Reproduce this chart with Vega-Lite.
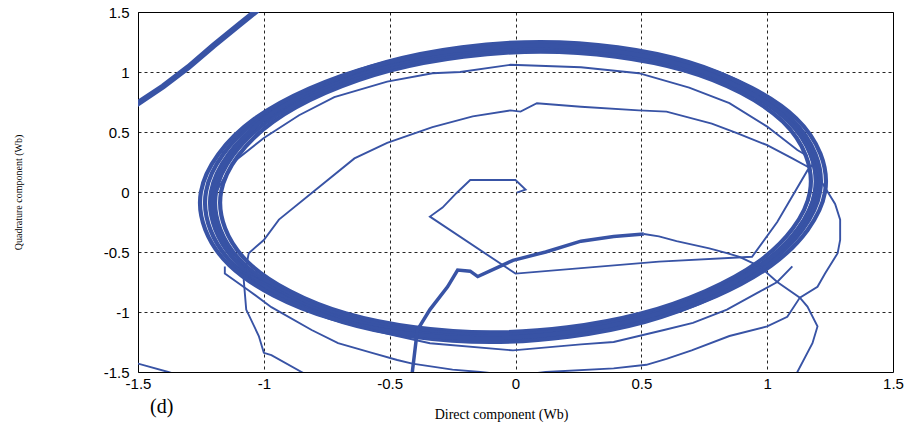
{
  "$schema": "https://vega.github.io/schema/vega-lite/v6.json",
  "width": 755,
  "height": 360,
  "autosize": {"type": "none"},
  "padding": {"left": 138, "top": 12, "right": 17, "bottom": 69},
  "background": "white",
  "config": {
    "view": {"stroke": "black", "strokeWidth": 1},
    "axis": {
      "grid": true,
      "gridDash": [3, 3],
      "gridColor": "#000",
      "gridOpacity": 0.85,
      "gridWidth": 1,
      "ticks": false,
      "domain": false,
      "labelFont": "Liberation Sans",
      "labelFontSize": 15,
      "labelColor": "#000",
      "labelFlush": false,
      "labelOverlap": false,
      "titleFont": "Liberation Serif",
      "titleFontWeight": "normal",
      "titleColor": "#000"
    }
  },
  "title": {
    "text": "(d)",
    "orient": "bottom",
    "anchor": "start",
    "frame": "group",
    "font": "Liberation Serif",
    "fontSize": 20,
    "fontWeight": "normal",
    "color": "#000",
    "offset": -24,
    "dx": 12
  },
  "datasets": {
    "band": [
      {"s":"b1","i":0,"x":1.17,"y":0},{"s":"b1","i":1,"x":1.063,"y":0.585},{"s":"b1","i":2,"x":0.672,"y":1.013},{"s":"b1","i":3,"x":0.1,"y":1.17},{"s":"b1","i":4,"x":-0.498,"y":1.013},{"s":"b1","i":5,"x":-0.963,"y":0.585},{"s":"b1","i":6,"x":-1.17,"y":0},{"s":"b1","i":7,"x":-1.063,"y":-0.585},{"s":"b1","i":8,"x":-0.672,"y":-1.013},{"s":"b1","i":9,"x":-0.1,"y":-1.17},{"s":"b1","i":10,"x":0.498,"y":-1.013},{"s":"b1","i":11,"x":0.963,"y":-0.585},
      {"s":"b2","i":0,"x":1.19,"y":0},{"s":"b2","i":1,"x":1.081,"y":0.595},{"s":"b2","i":2,"x":0.682,"y":1.031},{"s":"b2","i":3,"x":0.1,"y":1.19},{"s":"b2","i":4,"x":-0.508,"y":1.031},{"s":"b2","i":5,"x":-0.981,"y":0.595},{"s":"b2","i":6,"x":-1.19,"y":0},{"s":"b2","i":7,"x":-1.081,"y":-0.595},{"s":"b2","i":8,"x":-0.682,"y":-1.031},{"s":"b2","i":9,"x":-0.1,"y":-1.19},{"s":"b2","i":10,"x":0.508,"y":-1.031},{"s":"b2","i":11,"x":0.981,"y":-0.595},
      {"s":"b3","i":0,"x":1.21,"y":0},{"s":"b3","i":1,"x":1.098,"y":0.605},{"s":"b3","i":2,"x":0.692,"y":1.048},{"s":"b3","i":3,"x":0.1,"y":1.21},{"s":"b3","i":4,"x":-0.518,"y":1.048},{"s":"b3","i":5,"x":-0.998,"y":0.605},{"s":"b3","i":6,"x":-1.21,"y":0},{"s":"b3","i":7,"x":-1.098,"y":-0.605},{"s":"b3","i":8,"x":-0.692,"y":-1.048},{"s":"b3","i":9,"x":-0.1,"y":-1.21},{"s":"b3","i":10,"x":0.518,"y":-1.048},{"s":"b3","i":11,"x":0.998,"y":-0.605},
      {"s":"b4","i":0,"x":1.23,"y":0},{"s":"b4","i":1,"x":1.115,"y":0.615},{"s":"b4","i":2,"x":0.702,"y":1.065},{"s":"b4","i":3,"x":0.1,"y":1.23},{"s":"b4","i":4,"x":-0.528,"y":1.065},{"s":"b4","i":5,"x":-1.015,"y":0.615},{"s":"b4","i":6,"x":-1.23,"y":0},{"s":"b4","i":7,"x":-1.115,"y":-0.615},{"s":"b4","i":8,"x":-0.702,"y":-1.065},{"s":"b4","i":9,"x":-0.1,"y":-1.23},{"s":"b4","i":10,"x":0.528,"y":-1.065},{"s":"b4","i":11,"x":1.015,"y":-0.615},
      {"s":"b5","i":0,"x":1.2,"y":0},{"s":"b5","i":1,"x":1.089,"y":0.625},{"s":"b5","i":2,"x":0.687,"y":1.083},{"s":"b5","i":3,"x":0.1,"y":1.25},{"s":"b5","i":4,"x":-0.513,"y":1.083},{"s":"b5","i":5,"x":-0.989,"y":0.625},{"s":"b5","i":6,"x":-1.2,"y":0},{"s":"b5","i":7,"x":-1.089,"y":-0.625},{"s":"b5","i":8,"x":-0.687,"y":-1.083},{"s":"b5","i":9,"x":-0.1,"y":-1.25},{"s":"b5","i":10,"x":0.513,"y":-1.083},{"s":"b5","i":11,"x":0.989,"y":-0.625},
      {"s":"b6","i":0,"x":1.19,"y":0},{"s":"b6","i":1,"x":1.077,"y":0.61},{"s":"b6","i":2,"x":0.667,"y":1.057},{"s":"b6","i":3,"x":0.07,"y":1.22},{"s":"b6","i":4,"x":-0.553,"y":1.057},{"s":"b6","i":5,"x":-1.037,"y":0.61},{"s":"b6","i":6,"x":-1.25,"y":0},{"s":"b6","i":7,"x":-1.137,"y":-0.61},{"s":"b6","i":8,"x":-0.727,"y":-1.057},{"s":"b6","i":9,"x":-0.13,"y":-1.22},{"s":"b6","i":10,"x":0.493,"y":-1.057},{"s":"b6","i":11,"x":0.977,"y":-0.61}
    ],
    "thick": [
      {"s":"T1","i":0,"x":-1.6,"y":0.58},{"s":"T1","i":1,"x":-1.5,"y":0.74},{"s":"T1","i":2,"x":-1.4,"y":0.88},{"s":"T1","i":3,"x":-1.3,"y":1.04},{"s":"T1","i":4,"x":-1.2,"y":1.22},{"s":"T1","i":5,"x":-1.1,"y":1.39},{"s":"T1","i":6,"x":-1.0,"y":1.56},
      {"s":"L0","i":0,"x":-0.41,"y":-1.6},{"s":"L0","i":1,"x":-0.41,"y":-1.5},{"s":"L0","i":2,"x":-0.39,"y":-1.15},{"s":"L0","i":3,"x":-0.34,"y":-0.98},{"s":"L0","i":4,"x":-0.27,"y":-0.79},{"s":"L0","i":5,"x":-0.23,"y":-0.65},{"s":"L0","i":6,"x":-0.18,"y":-0.66},{"s":"L0","i":7,"x":-0.15,"y":-0.705},{"s":"L0","i":8,"x":-0.01,"y":-0.57},{"s":"L0","i":9,"x":0.12,"y":-0.5},{"s":"L0","i":10,"x":0.26,"y":-0.41},{"s":"L0","i":11,"x":0.39,"y":-0.37},{"s":"L0","i":12,"x":0.51,"y":-0.35}
    ],
    "trace": [
      {"s":"T2","i":0,"x":-1.6,"y":-1.38},{"s":"T2","i":1,"x":-1.5,"y":-1.43},{"s":"T2","i":2,"x":-1.38,"y":-1.5},{"s":"T2","i":3,"x":-1.3,"y":-1.55},
      {"s":"S","i":0,"x":0.005,"y":-0.005},{"s":"S","i":1,"x":0.04,"y":0.02},{"s":"S","i":2,"x":0.0,"y":0.1},{"s":"S","i":3,"x":-0.18,"y":0.1},{"s":"S","i":4,"x":-0.235,"y":-0.01},{"s":"S","i":5,"x":-0.29,"y":-0.13},{"s":"S","i":6,"x":-0.34,"y":-0.205},{"s":"S","i":7,"x":0.0,"y":-0.68},{"s":"S","i":8,"x":0.57,"y":-0.58},{"s":"S","i":9,"x":0.94,"y":-0.54},{"s":"S","i":10,"x":1.04,"y":-0.25},{"s":"S","i":11,"x":1.16,"y":0.18},{"s":"S","i":12,"x":1.19,"y":0.25},
      {"s":"L1","i":12,"x":0.51,"y":-0.35},{"s":"L1","i":13,"x":0.57,"y":-0.37},{"s":"L1","i":14,"x":0.64,"y":-0.41},{"s":"L1","i":15,"x":0.77,"y":-0.47},{"s":"L1","i":16,"x":0.84,"y":-0.51},{"s":"L1","i":17,"x":0.89,"y":-0.54},{"s":"L1","i":18,"x":0.97,"y":-0.62},{"s":"L1","i":19,"x":1.04,"y":-0.75},{"s":"L1","i":20,"x":1.13,"y":-0.88},{"s":"L1","i":21,"x":1.16,"y":-0.955},{"s":"L1","i":22,"x":1.2,"y":-1.12},{"s":"L1","i":23,"x":1.18,"y":-1.26},{"s":"L1","i":24,"x":1.12,"y":-1.5},{"s":"L1","i":25,"x":1.08,"y":-1.6},
      {"s":"U1","i":0,"x":1.17,"y":0.2},{"s":"U1","i":1,"x":1.1,"y":0.28},{"s":"U1","i":2,"x":1.0,"y":0.39},{"s":"U1","i":3,"x":0.88,"y":0.49},{"s":"U1","i":4,"x":0.78,"y":0.57},{"s":"U1","i":5,"x":0.6,"y":0.67},{"s":"U1","i":6,"x":0.49,"y":0.68},{"s":"U1","i":7,"x":0.26,"y":0.71},{"s":"U1","i":8,"x":0.085,"y":0.74},{"s":"U1","i":9,"x":0.02,"y":0.67},{"s":"U1","i":10,"x":-0.02,"y":0.68},{"s":"U1","i":11,"x":-0.17,"y":0.63},{"s":"U1","i":12,"x":-0.33,"y":0.54},{"s":"U1","i":13,"x":-0.51,"y":0.41},{"s":"U1","i":14,"x":-0.64,"y":0.28},{"s":"U1","i":15,"x":-0.94,"y":-0.23},{"s":"U1","i":16,"x":-1.0,"y":-0.4},{"s":"U1","i":17,"x":-1.06,"y":-0.51},{"s":"U1","i":18,"x":-1.08,"y":-0.73},{"s":"U1","i":19,"x":-1.07,"y":-0.98},{"s":"U1","i":20,"x":-1.02,"y":-1.2},{"s":"U1","i":21,"x":-1.0,"y":-1.34},{"s":"U1","i":22,"x":-0.97,"y":-1.36},{"s":"U1","i":23,"x":-0.85,"y":-1.5},{"s":"U1","i":24,"x":-0.8,"y":-1.56},
      {"s":"U2","i":0,"x":1.16,"y":0.3},{"s":"U2","i":1,"x":1.12,"y":0.35},{"s":"U2","i":2,"x":1.0,"y":0.545},{"s":"U2","i":3,"x":0.85,"y":0.74},{"s":"U2","i":4,"x":0.69,"y":0.87},{"s":"U2","i":5,"x":0.49,"y":0.99},{"s":"U2","i":6,"x":0.26,"y":1.04},{"s":"U2","i":7,"x":-0.02,"y":1.06},{"s":"U2","i":8,"x":-0.22,"y":1.0},{"s":"U2","i":9,"x":-0.33,"y":0.99},{"s":"U2","i":10,"x":-0.51,"y":0.92},{"s":"U2","i":11,"x":-0.72,"y":0.79},{"s":"U2","i":12,"x":-0.86,"y":0.64},{"s":"U2","i":13,"x":-1.0,"y":0.45},{"s":"U2","i":14,"x":-1.12,"y":0.25},{"s":"U2","i":15,"x":-1.19,"y":0.0},
      {"s":"B1","i":0,"x":-1.12,"y":-0.6},{"s":"B1","i":1,"x":-1.1,"y":-0.65},{"s":"B1","i":2,"x":-0.97,"y":-0.79},{"s":"B1","i":3,"x":-0.84,"y":-0.93},{"s":"B1","i":4,"x":-0.705,"y":-1.04},{"s":"B1","i":5,"x":-0.57,"y":-1.15},{"s":"B1","i":6,"x":-0.47,"y":-1.2},{"s":"B1","i":7,"x":-0.34,"y":-1.26},{"s":"B1","i":8,"x":-0.01,"y":-1.32},{"s":"B1","i":9,"x":0.26,"y":-1.27},{"s":"B1","i":10,"x":0.39,"y":-1.25},{"s":"B1","i":11,"x":0.59,"y":-1.15},{"s":"B1","i":12,"x":0.705,"y":-1.09},{"s":"B1","i":13,"x":0.84,"y":-0.98},{"s":"B1","i":14,"x":0.97,"y":-0.83},{"s":"B1","i":15,"x":1.04,"y":-0.75},{"s":"B1","i":16,"x":1.1,"y":-0.62},
      {"s":"B2","i":0,"x":-1.155,"y":-0.62},{"s":"B2","i":1,"x":-1.155,"y":-0.68},{"s":"B2","i":2,"x":-1.06,"y":-0.82},{"s":"B2","i":3,"x":-0.97,"y":-0.96},{"s":"B2","i":4,"x":-0.81,"y":-1.15},{"s":"B2","i":5,"x":-0.705,"y":-1.26},{"s":"B2","i":6,"x":-0.57,"y":-1.34},{"s":"B2","i":7,"x":-0.47,"y":-1.4},{"s":"B2","i":8,"x":-0.41,"y":-1.43},{"s":"B2","i":9,"x":-0.25,"y":-1.48},{"s":"B2","i":10,"x":-0.14,"y":-1.5},{"s":"B2","i":11,"x":0.0,"y":-1.53},{"s":"B2","i":12,"x":0.12,"y":-1.5},{"s":"B2","i":13,"x":0.39,"y":-1.47},{"s":"B2","i":14,"x":0.52,"y":-1.44},{"s":"B2","i":15,"x":0.6,"y":-1.39},{"s":"B2","i":16,"x":0.7,"y":-1.32},{"s":"B2","i":17,"x":0.85,"y":-1.2},{"s":"B2","i":18,"x":1.0,"y":-1.12},{"s":"B2","i":19,"x":1.08,"y":-1.04},{"s":"B2","i":20,"x":1.13,"y":-0.88},{"s":"B2","i":21,"x":1.2,"y":-0.79},{"s":"B2","i":22,"x":1.23,"y":-0.68},{"s":"B2","i":23,"x":1.28,"y":-0.51},{"s":"B2","i":24,"x":1.29,"y":-0.4},{"s":"B2","i":25,"x":1.29,"y":-0.23},{"s":"B2","i":26,"x":1.27,"y":-0.1},{"s":"B2","i":27,"x":1.22,"y":0.07},{"s":"B2","i":28,"x":1.19,"y":0.18}
    ]
  },
  "encoding": {
    "x": {
      "field": "x", "type": "quantitative",
      "scale": {"domain": [-1.5, 1.5], "nice": false, "zero": false},
      "axis": {
        "title": "Direct component (Wb)",
        "values": [-1.5, -1, -0.5, 0, 0.5, 1, 1.5],
        "labelExpr": "datum.value < 0 ? '-' + format(-datum.value, '~g') : format(datum.value, '~g')",
        "labelPadding": 4,
        "titleFontSize": 14,
        "titlePadding": 16,
        "titleX": 363
      }
    },
    "y": {
      "field": "y", "type": "quantitative",
      "scale": {"domain": [-1.5, 1.5], "nice": false, "zero": false},
      "axis": {
        "title": "Quadrature component (Wb)",
        "values": [-1.5, -1, -0.5, 0, 0.5, 1, 1.5],
        "labelExpr": "datum.value < 0 ? '-' + format(-datum.value, '~g') : format(datum.value, '~g')",
        "labelPadding": 9,
        "titleFontSize": 10,
        "titlePadding": 80
      }
    },
    "detail": {"field": "s"},
    "order": {"field": "i", "type": "quantitative"}
  },
  "layer": [
    {
      "data": {"name": "band"},
      "mark": {"type": "line", "interpolate": "cardinal-closed", "color": "#3853a5", "strokeWidth": 4.2, "clip": true}
    },
    {
      "data": {"name": "trace"},
      "mark": {"type": "line", "color": "#3853a5", "strokeWidth": 1.9, "clip": true}
    },
    {
      "data": {"name": "thick"},
      "transform": [{"filter": "datum.s == 'T1'"}],
      "mark": {"type": "line", "color": "#3853a5", "strokeWidth": 6, "clip": true}
    },
    {
      "data": {"name": "thick"},
      "transform": [{"filter": "datum.s == 'L0'"}],
      "mark": {"type": "line", "color": "#3853a5", "strokeWidth": 3.5, "clip": true}
    }
  ]
}
